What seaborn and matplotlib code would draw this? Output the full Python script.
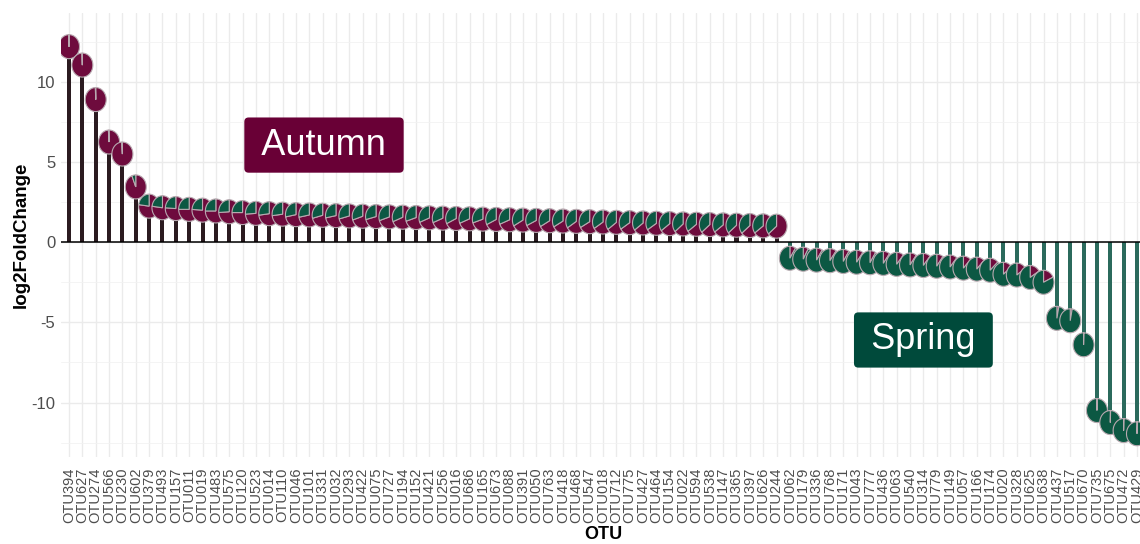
import matplotlib
matplotlib.use("Agg")
import matplotlib.pyplot as plt
import numpy as np
import pandas as pd
import seaborn as sns

# OTUs ordered by log2 fold change (Autumn-enriched first, then Spring-enriched)
otu = [
    "OTU394", "OTU627", "OTU274", "OTU566", "OTU230", "OTU602", "OTU379", "OTU493",
    "OTU157", "OTU011", "OTU019", "OTU483", "OTU575", "OTU120", "OTU523", "OTU014",
    "OTU110", "OTU046", "OTU101", "OTU331", "OTU032", "OTU293", "OTU422", "OTU075",
    "OTU727", "OTU194", "OTU152", "OTU421", "OTU256", "OTU016", "OTU686", "OTU165",
    "OTU673", "OTU088", "OTU391", "OTU050", "OTU763", "OTU418", "OTU468", "OTU547",
    "OTU018", "OTU712", "OTU775", "OTU427", "OTU464", "OTU154", "OTU022", "OTU594",
    "OTU538", "OTU147", "OTU365", "OTU397", "OTU626", "OTU244",
    "OTU062", "OTU179", "OTU336", "OTU768", "OTU171", "OTU043", "OTU777", "OTU436",
    "OTU063", "OTU540", "OTU314", "OTU779", "OTU149", "OTU057", "OTU166", "OTU174",
    "OTU020", "OTU328", "OTU625", "OTU638", "OTU437", "OTU517", "OTU670", "OTU735",
    "OTU675", "OTU472", "OTU429",
]

log2fc = [
    12.2, 11.05, 8.9, 6.25, 5.5, 3.45, 2.25, 2.15, 2.1, 2.05, 2.0, 1.95, 1.9, 1.85,
    1.8, 1.78, 1.75, 1.72, 1.7, 1.68, 1.66, 1.64, 1.62, 1.6, 1.58, 1.56, 1.54, 1.52,
    1.5, 1.48, 1.46, 1.44, 1.42, 1.4, 1.38, 1.36, 1.34, 1.32, 1.3, 1.28, 1.26, 1.24,
    1.22, 1.2, 1.18, 1.16, 1.14, 1.12, 1.1, 1.08, 1.06, 1.04, 1.02, 1.0,
    -1.0, -1.06, -1.12, -1.15, -1.2, -1.25, -1.28, -1.32, -1.38, -1.42, -1.45, -1.5,
    -1.55, -1.62, -1.68, -1.75, -2.0, -2.05, -2.2, -2.5, -4.75, -4.9, -6.4, -10.5,
    -11.25, -11.75, -11.95,
]

# share of reads found in Autumn samples (rest = Spring)
autumn_share = [
    0.995, 0.995, 0.995, 0.99, 0.99, 0.94, 0.77, 0.77, 0.76, 0.75, 0.76, 0.75, 0.74,
    0.75, 0.74, 0.73, 0.73, 0.72, 0.72, 0.71, 0.72, 0.71, 0.70, 0.71, 0.70, 0.69,
    0.70, 0.69, 0.69, 0.68, 0.69, 0.70, 0.68, 0.69, 0.67, 0.68, 0.67, 0.67, 0.66,
    0.67, 0.66, 0.65, 0.66, 0.65, 0.66, 0.65, 0.64, 0.65, 0.64, 0.65, 0.64, 0.64,
    0.65, 0.64,
    0.09, 0.08, 0.09, 0.10, 0.09, 0.10, 0.09, 0.10, 0.11, 0.10, 0.11, 0.10, 0.11,
    0.12, 0.12, 0.13, 0.14, 0.15, 0.16, 0.18, 0.03, 0.03, 0.005, 0.005, 0.005,
    0.005, 0.005,
]

season = ["Autumn"] * 54 + ["Spring"] * 27

AUTUMN = "#6e0b3d"
SPRING = "#0c5843"
BOX = {"Autumn": "#690036", "Spring": "#004a3b"}
STEM = {"Autumn": "#2b1b20", "Spring": "#2b6a5c"}
PIE_EDGE = "#b8a9b0"

df = pd.DataFrame({"OTU": otu, "log2FoldChange": log2fc,
                   "autumn": autumn_share, "Season": season})

sns.set_theme(style="whitegrid")
plt.rcParams["font.family"] = ["Liberation Sans", "DejaVu Sans"]

fig = plt.figure(figsize=(11.4, 5.44), dpi=100)
ax = fig.add_axes([61 / 1140, 87 / 544, 1084 / 1140, 444 / 544])

# stems
sns.barplot(data=df, x="OTU", y="log2FoldChange", hue="Season", order=otu,
            palette=STEM, width=0.3, dodge=False, saturation=1, legend=False,
            linewidth=0, ax=ax, zorder=2)

ax.axhline(0, color="black", lw=1.1, zorder=3)

ax.set_xlim(-0.6, 80.6)
ax.set_ylim(-13.4, 14.3)

# pie radius given in pixels, converted to data units of each axis
p0 = ax.transData.transform((0, 0))
px_per_x = ax.transData.transform((1, 0))[0] - p0[0]
px_per_y = ax.transData.transform((0, 1))[1] - p0[1]
rx = 10.5 / px_per_x
ry = 12.0 / px_per_y


def slice_xy(cx, cy, t1, t2):
    t = np.deg2rad(np.linspace(t1, t2, max(int(abs(t2 - t1) / 3), 2) + 1))
    xs = np.concatenate([[cx], cx + rx * np.cos(t), [cx]])
    ys = np.concatenate([[cy], cy + ry * np.sin(t), [cy]])
    return xs, ys


# pie markers: Autumn slice runs clockwise from 12 o'clock, Spring fills the rest
for i, (v, a) in enumerate(zip(df["log2FoldChange"], df["autumn"])):
    cut = 90 - 360 * a
    xs, ys = slice_xy(i, v, cut, 90)
    ax.fill(xs, ys, facecolor=AUTUMN, edgecolor=PIE_EDGE, lw=0.8, zorder=4)
    xs, ys = slice_xy(i, v, -270, cut)
    ax.fill(xs, ys, facecolor=SPRING, edgecolor=PIE_EDGE, lw=0.8, zorder=4)

ax.set_xlim(-0.6, 80.6)
ax.set_ylim(-13.4, 14.3)
ax.set_yticks([-10, -5, 0, 5, 10])
ax.set_yticks(np.arange(-12.5, 13, 5), minor=True)
ax.set_yticklabels(["-10", "-5", "0", "5", "10"])

ax.grid(True, which="major", axis="both", color="#ebebeb", lw=1.0, zorder=0)
ax.grid(True, which="minor", axis="y", color="#f2f2f2", lw=0.6, zorder=0)
ax.set_axisbelow(True)
for s in ax.spines.values():
    s.set_visible(False)

ax.tick_params(axis="x", rotation=90, labelsize=10.5, labelcolor="#4d4d4d",
               length=0, pad=7.5)
ax.tick_params(axis="y", labelsize=12, labelcolor="#4d4d4d", length=0, pad=4)
ax.tick_params(axis="y", which="minor", length=0)

ax.set_xlabel("OTU", fontsize=13, fontweight="bold", color="black", labelpad=2)
ax.set_ylabel("log2FoldChange", fontsize=13.5, fontweight="bold", color="black",
              labelpad=1)

for x, y, lab in [(19.1, 6.06, "Autumn"), (64.0, -6.1, "Spring")]:
    ax.text(x, y, f"\u2009{lab}\u2009", color="white", fontsize=26, ha="center",
            va="center", zorder=5,
            bbox=dict(boxstyle="round,pad=0.28,rounding_size=0.12",
                      fc=BOX[lab], ec="none"))

fig.savefig("out.png", dpi=100)
